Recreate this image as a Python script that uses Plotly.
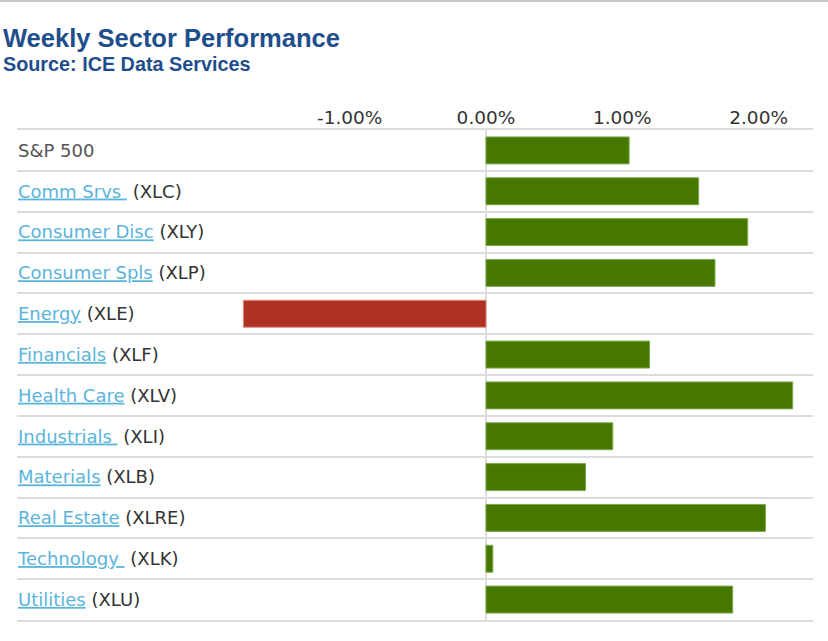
import plotly.graph_objects as go

# ---- data ----
sectors = ["S&P 500", "Comm Srvs", "Consumer Disc", "Consumer Spls", "Energy",
           "Financials", "Health Care", "Industrials", "Materials", "Real Estate",
           "Technology", "Utilities"]
tickers = ["", "XLC", "XLY", "XLP", "XLE", "XLF", "XLV", "XLI", "XLB", "XLRE", "XLK", "XLU"]
link_trailing_space = [False, True, False, False, False, False, False, True, False, False, True, False]
weekly_pct = [1.05, 1.56, 1.92, 1.68, -1.78, 1.20, 2.25, 0.93, 0.73, 2.05, 0.05, 1.81]
x_tickvals = [-1, 0, 1, 2]
x_ticktext = ["-1.00%", "0.00%", "1.00%", "2.00%"]

title_text = "Weekly Sector Performance"
subtitle_text = "Source: ICE Data Services"

# ---- style ----
W, H = 828, 641
ML, MR, MT, MB = 17, 15, 130, 21
PW, PH = W - ML - MR, H - MT - MB
GREEN, GREEN_EDGE = "#467800", "#7aa84a"
RED, RED_EDGE = "#ae3122", "#e08a80"
LINK = "#5ab4dc"
GRID = "#dcdcdc"
TXT = "#333333"
TITLE_C = "#1f4e8c"
NBSP = "\u00a0"


def px_x(p):
    return (p - ML) / PW


def px_y(p):
    return (H - MB - p) / PH


def label_html(name, ticker, sp):
    if not ticker:
        return f"<span style='color:#555555'>{name}</span>"
    nm = name + (NBSP if sp else "")
    return (f"<span style='color:{LINK};text-decoration:underline'>{nm}</span>"
            f"<span style='color:{TXT}'>{NBSP}({ticker})</span>")


ticktext_y = [label_html(n, t, s) for n, t, s in zip(sectors, tickers, link_trailing_space)]

colors = [GREEN if v >= 0 else RED for v in weekly_pct]
edges = [GREEN_EDGE if v >= 0 else RED_EDGE for v in weekly_pct]

fig = go.Figure(go.Bar(
    x=weekly_pct, y=sectors, orientation="h",
    marker=dict(color=colors, line=dict(color=edges, width=1)),
    hovertemplate="%{y}: %{x:.2f}%<extra></extra>",
))

zero_px = 486.0
unit_px = 136.3
xmin = (ML - zero_px) / unit_px
xmax = (W - MR - zero_px) / unit_px

fig.update_layout(
    width=W, height=H, autosize=False,
    margin=dict(l=ML, r=MR, t=MT, b=MB, pad=0),
    paper_bgcolor="white", plot_bgcolor="white",
    showlegend=False, bargap=0.34,
    font=dict(family="DejaVu Sans", size=16, color=TXT),
    xaxis=dict(
        side="top", range=[xmin, xmax], tickvals=x_tickvals, ticktext=x_ticktext,
        showgrid=False, zeroline=True, zerolinecolor=GRID, zerolinewidth=2,
        showline=True, mirror=True, linecolor=GRID, linewidth=2,
        ticks="", ticklabelstandoff=-3,
        tickfont=dict(family="DejaVu Sans", size=18.5, color=TXT),
        fixedrange=True,
    ),
    yaxis=dict(
        type="category", categoryorder="array", categoryarray=sectors,
        autorange="reversed", tickvals=sectors, ticktext=ticktext_y,
        tickson="boundaries", showgrid=True, gridcolor=GRID, gridwidth=2,
        ticks="", ticklabelposition="inside", ticklabelstandoff=-2,
        zeroline=False, showline=False,
        tickfont=dict(family="DejaVu Sans", size=18, color=TXT),
        fixedrange=True,
    ),
    shapes=[dict(type="line", xref="paper", yref="paper",
                 x0=px_x(0), x1=px_x(W), y0=px_y(1), y1=px_y(1),
                 line=dict(color="#c8c8c8", width=2))],
    annotations=[
        dict(text=f"<b>{title_text}</b>", xref="paper", yref="paper",
             x=px_x(1), y=px_y(38), xanchor="left", yanchor="middle",
             showarrow=False, font=dict(family="Liberation Sans", size=25.5, color=TITLE_C)),
        dict(text=f"<b>{subtitle_text}</b>", xref="paper", yref="paper",
             x=px_x(1), y=px_y(64), xanchor="left", yanchor="middle",
             showarrow=False, font=dict(family="Liberation Sans", size=19.8, color=TITLE_C)),
    ],
)

fig.write_html("out.html", config={"displayModeBar": False},
               post_script="document.body.style.margin='0';document.body.style.overflow='hidden';")
